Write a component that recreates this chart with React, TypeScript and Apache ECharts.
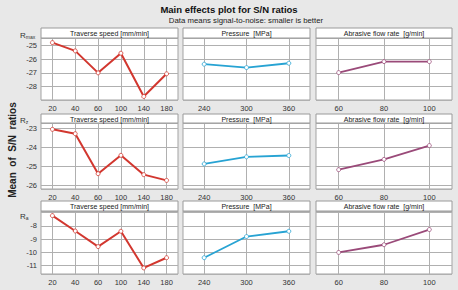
import React, { useEffect, useRef } from "react";
import * as echarts from "echarts";

// ---- data ----
const speeds = ["20", "40", "60", "100", "140", "180"];
const pressures = ["240", "300", "360"];
const flows = ["60", "80", "100"];

const rmaxSpeed = [-24.77, -25.38, -27.0, -25.55, -28.74, -27.07];
const rmaxPressure = [-26.36, -26.61, -26.29];
const rmaxFlow = [-26.98, -26.17, -26.17];

const rzSpeed = [-23.05, -23.28, -25.37, -24.41, -25.42, -25.72];
const rzPressure = [-24.86, -24.49, -24.42];
const rzFlow = [-25.16, -24.62, -23.9];

const raSpeed = [-7.22, -8.38, -9.56, -8.4, -11.17, -10.4];
const raPressure = [-10.4, -8.8, -8.4];
const raFlow = [-10.0, -9.42, -8.27];

const rmaxTicks = [-25, -26, -27, -28];
const rzTicks = [-23, -24, -25, -26];
const raTicks = [-8, -9, -10, -11];

const rmaxRange = [-29.0, -24.43];
const rzRange = [-26.17, -22.72];
const raRange = [-11.63, -6.87];

const factorTitles = ["Traverse speed [mm/min]", "Pressure  [MPa]", "Abrasive flow rate  [g/min]"];
const rowNames = ["max", "z", "a"];

// ---- layout ----
const cols = [
  { l: 41, r: 178 },
  { l: 183, r: 310 },
  { l: 316, r: 452 },
];
const rows = [
  { h: 28, t: 38, b: 100, ly: 34 },
  { h: 114, t: 123, b: 189, ly: 119 },
  { h: 201, t: 211, b: 274, ly: 215 },
];
const colors = ["#d2372f", "#27a3d3", "#9a4a79"];

export default function App() {
  const ref = useRef<HTMLDivElement>(null);

  useEffect(() => {
    document.body.style.margin = "0";
    if (!ref.current) return;
    const chart = echarts.init(ref.current, undefined, { renderer: "svg" });

    const cats = [speeds, pressures, flows];
    const values = [
      [rmaxSpeed, rmaxPressure, rmaxFlow],
      [rzSpeed, rzPressure, rzFlow],
      [raSpeed, raPressure, raFlow],
    ];
    const ticks = [rmaxTicks, rzTicks, raTicks];
    const ranges = [rmaxRange, rzRange, raRange];

    const grids: any[] = [];
    const xAxes: any[] = [];
    const yAxes: any[] = [];
    const series: any[] = [];
    const graphics: any[] = [];

    const font = "Liberation Sans, Arial, sans-serif";

    rows.forEach((row, ri) => {
      cols.forEach((col, ci) => {
        const idx = grids.length;
        grids.push({
          left: col.l,
          top: row.t,
          width: col.r - col.l,
          height: row.b - row.t,
          show: true,
          backgroundColor: "#ffffff",
          borderColor: "#a3a3a3",
          borderWidth: 1,
          containLabel: false,
          outerBoundsMode: "none",
        });
        xAxes.push({
          type: "category",
          gridIndex: idx,
          data: cats[ci],
          boundaryGap: true,
          axisLine: { show: false },
          axisTick: { show: false },
          splitLine: { show: true, alignWithLabel: true, lineStyle: { color: "#b0b0b0", width: 1 } },
          axisLabel: { interval: 0, fontSize: 7.5, color: "#333", margin: 4, fontFamily: font },
        });
        const tk = ticks[ri];
        yAxes.push({
          type: "value",
          gridIndex: idx,
          min: ranges[ri][0],
          max: ranges[ri][1],
          minInterval: 1,
          maxInterval: 1,
          splitNumber: 4,
          axisLine: { show: false },
          axisTick: { show: false },
          splitLine: { show: true, lineStyle: { color: "#b0b0b0", width: 1 } },
          axisLabel: {
            show: ci === 0,
            showMinLabel: false,
            showMaxLabel: false,
            fontSize: 7.5,
            color: "#333",
            margin: 4,
            fontFamily: font,
            formatter: (v: number) => (tk.some((t) => Math.abs(t - v) < 1e-6) ? String(v) : ""),
          },
        });
        series.push({
          type: "line",
          xAxisIndex: idx,
          yAxisIndex: idx,
          data: values[ri][ci],
          symbol: "circle",
          symbolSize: 4,
          showAllSymbol: true,
          lineStyle: { color: colors[ci], width: ci === 0 ? 2 : 1.8 },
          itemStyle: { color: "#ffffff", borderColor: colors[ci], borderWidth: 0.8 },
          emphasis: { disabled: true },
        });
        // header strip
        graphics.push({
          type: "rect",
          shape: { x: col.l, y: row.h, width: col.r - col.l, height: row.t - row.h },
          style: { fill: "#ffffff", stroke: "#9a9a9a", lineWidth: 1 },
          z: 10,
        });
        graphics.push({
          type: "text",
          x: (col.l + col.r) / 2,
          y: (row.h + row.t) / 2 + 0.5,
          style: {
            text: factorTitles[ci],
            fontSize: 7,
            fontFamily: font,
            fill: "#222",
            align: "center",
            verticalAlign: "middle",
          },
          z: 11,
        });
      });
      // row label R_x
      graphics.push({
        type: "text",
        x: 20,
        y: row.ly,
        style: {
          text: "{a|R}{b|" + rowNames[ri] + "}",
          align: "left",
          verticalAlign: "middle",
          rich: {
            a: { fontSize: 8, fontFamily: font, fill: "#333", lineHeight: 10, verticalAlign: "bottom" },
            b: { fontSize: 5, fontFamily: font, fill: "#333", lineHeight: 10, verticalAlign: "bottom", padding: [3, 0, 0, 0] },
          },
        },
        z: 11,
      });
    });

    graphics.push({
      type: "text",
      x: 229,
      y: 9,
      style: {
        text: "Main effects plot for S/N ratios",
        fontSize: 9.5,
        fontWeight: "bold",
        fontFamily: font,
        fill: "#111",
        align: "center",
        verticalAlign: "middle",
      },
    });
    graphics.push({
      type: "text",
      x: 246,
      y: 20,
      style: {
        text: "Data means signal-to-noise: smaller is better",
        fontSize: 7.8,
        fontFamily: font,
        fill: "#222",
        align: "center",
        verticalAlign: "middle",
      },
    });
    graphics.push({
      type: "text",
      x: 12,
      y: 150,
      rotation: Math.PI / 2,
      style: {
        text: "Mean  of  S/N  ratios",
        fontSize: 10,
        fontWeight: "bold",
        fontFamily: font,
        fill: "#222",
        align: "center",
        verticalAlign: "middle",
      },
    });

    chart.setOption({
      animation: false,
      backgroundColor: "#e8e8e8",
      grid: grids,
      xAxis: xAxes,
      yAxis: yAxes,
      series,
      graphic: graphics,
    });

    return () => chart.dispose();
  }, []);

  return <div ref={ref} style={{ width: 458, height: 290 }} />;
}
